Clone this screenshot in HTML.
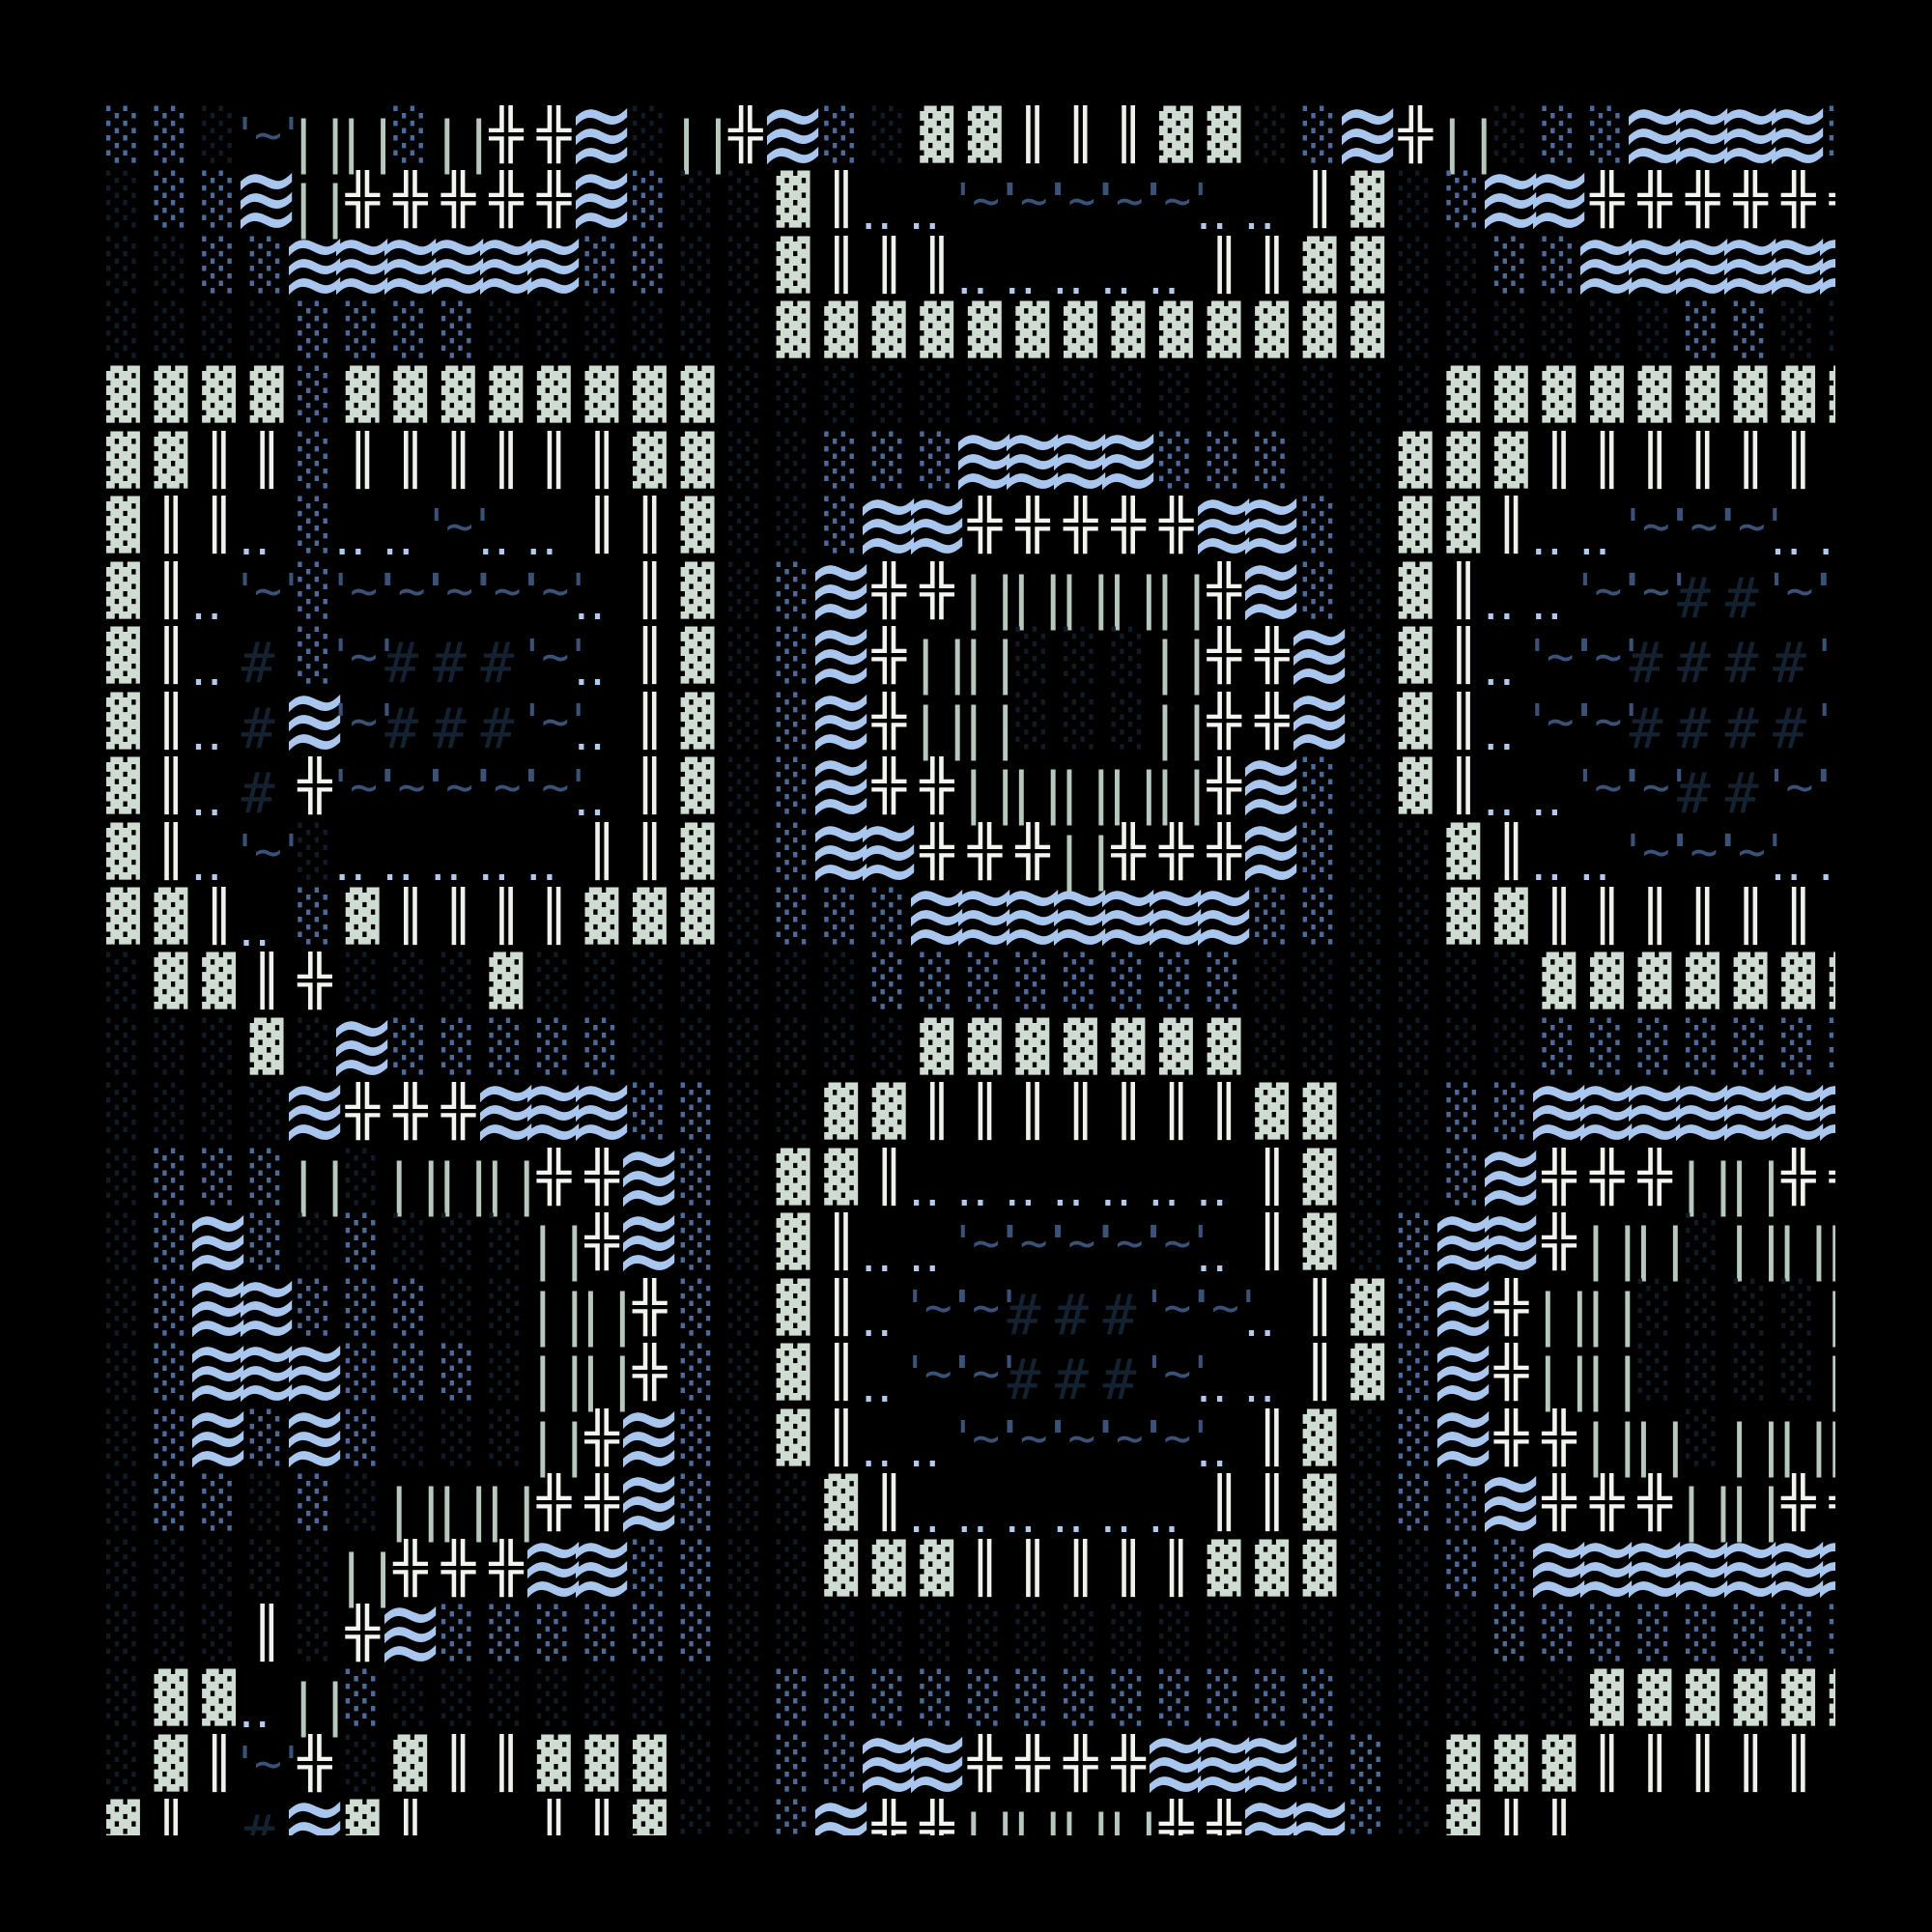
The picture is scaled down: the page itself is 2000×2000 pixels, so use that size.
<!DOCTYPE html>
<html><head><meta charset="utf-8"><style>
body{margin:0;background:#000;width:2000px;height:2000px;overflow:hidden;position:relative}
#c{position:absolute;left:110px;top:102px;width:1790px;height:1798px;overflow:hidden;background:#000}
.r{position:absolute;left:0;height:67.45px;white-space:nowrap;line-height:0;font-size:0}
i{font-style:normal;display:inline-block;vertical-align:top;width:49.56px;height:67.45px;position:relative;font-family:"DejaVu Sans Mono",monospace;font-size:58px;line-height:67.5px;overflow:visible}
.d,.m,.f,.w,.x{transform:scaleY(.874);transform-origin:0 0}
.d{color:#cfdcd2}
.m{color:#4d6b9a}
.f{color:#111a25}
.w{color:#eef2ea}
.x{color:#f2f5ee}
.p{color:#b7c9bd;letter-spacing:-2px;left:-11.5px;top:4px}
.h{color:#142131;left:-9px;top:4px}
.t{color:#3a5277;font-size:48px;line-height:55.9px;letter-spacing:-5px;left:-19.5px;top:3.5px}
.o{color:#b2caee;font-size:50px;line-height:58.2px;left:-12px;top:13.6px}
.z{color:#a8c6ee;font-family:"DejaVu Sans",sans-serif;font-size:72px;line-height:67.5px;left:-18.7px;top:-20px;transform:scale(1.18,1.49);transform-origin:0 0}
</style></head><body><div id="c">
<div class="r" style="top:7.6px"><i class=m>░</i><i class=m>░</i><i class=f>░</i><i class=t>'~'</i><i class=p>||</i><i class=p>||</i><i class=m>░</i><i class=p>||</i><i class=x>╬</i><i class=x>╬</i><i class=z>≋</i><i class=f>░</i><i class=p>||</i><i class=x>╬</i><i class=z>≋</i><i class=m>░</i><i class=f>░</i><i class=d>▓</i><i class=d>▓</i><i class=w>║</i><i class=w>║</i><i class=w>║</i><i class=d>▓</i><i class=d>▓</i><i class=f>░</i><i class=m>░</i><i class=z>≋</i><i class=x>╬</i><i class=p>||</i><i class=f>░</i><i class=m>░</i><i class=m>░</i><i class=z>≋</i><i class=z>≋</i><i class=z>≋</i><i class=z>≋</i><i class=m>░</i></div>
<div class="r" style="top:75.05px"><i class=f>░</i><i class=m>░</i><i class=m>░</i><i class=z>≋</i><i class=p>||</i><i class=x>╬</i><i class=x>╬</i><i class=x>╬</i><i class=x>╬</i><i class=x>╬</i><i class=z>≋</i><i class=m>░</i><i class=f>░</i><i class=f>░</i><i class=d>▓</i><i class=w>║</i><i class=o>‥</i><i class=o>‥</i><i class=t>'~'</i><i class=t>'~'</i><i class=t>'~'</i><i class=t>'~'</i><i class=t>'~'</i><i class=o>‥</i><i class=o>‥</i><i class=w>║</i><i class=d>▓</i><i class=f>░</i><i class=m>░</i><i class=z>≋</i><i class=z>≋</i><i class=x>╬</i><i class=x>╬</i><i class=x>╬</i><i class=x>╬</i><i class=x>╬</i><i class=x>╬</i></div>
<div class="r" style="top:142.5px"><i class=f>░</i><i class=f>░</i><i class=m>░</i><i class=m>░</i><i class=z>≋</i><i class=z>≋</i><i class=z>≋</i><i class=z>≋</i><i class=z>≋</i><i class=z>≋</i><i class=m>░</i><i class=m>░</i><i class=f>░</i><i class=f>░</i><i class=d>▓</i><i class=w>║</i><i class=w>║</i><i class=w>║</i><i class=o>‥</i><i class=o>‥</i><i class=o>‥</i><i class=o>‥</i><i class=o>‥</i><i class=w>║</i><i class=w>║</i><i class=d>▓</i><i class=d>▓</i><i class=f>░</i><i class=f>░</i><i class=m>░</i><i class=m>░</i><i class=z>≋</i><i class=z>≋</i><i class=z>≋</i><i class=z>≋</i><i class=z>≋</i><i class=z>≋</i></div>
<div class="r" style="top:209.95px"><i class=f>░</i><i class=f>░</i><i class=f>░</i><i class=f>░</i><i class=m>░</i><i class=m>░</i><i class=m>░</i><i class=m>░</i><i class=f>░</i><i class=f>░</i><i class=f>░</i><i class=f>░</i><i class=f>░</i><i class=f>░</i><i class=d>▓</i><i class=d>▓</i><i class=d>▓</i><i class=d>▓</i><i class=d>▓</i><i class=d>▓</i><i class=d>▓</i><i class=d>▓</i><i class=d>▓</i><i class=d>▓</i><i class=d>▓</i><i class=d>▓</i><i class=d>▓</i><i class=f>░</i><i class=f>░</i><i class=f>░</i><i class=f>░</i><i class=f>░</i><i class=f>░</i><i class=m>░</i><i class=m>░</i><i class=f>░</i><i class=f>░</i></div>
<div class="r" style="top:277.4px"><i class=d>▓</i><i class=d>▓</i><i class=d>▓</i><i class=d>▓</i><i class=m>░</i><i class=d>▓</i><i class=d>▓</i><i class=d>▓</i><i class=d>▓</i><i class=d>▓</i><i class=d>▓</i><i class=d>▓</i><i class=d>▓</i><i class=f>░</i><i class=f>░</i><i class=f>░</i><i class=f>░</i><i class=f>░</i><i class=f>░</i><i class=f>░</i><i class=f>░</i><i class=f>░</i><i class=f>░</i><i class=f>░</i><i class=f>░</i><i class=f>░</i><i class=f>░</i><i class=f>░</i><i class=d>▓</i><i class=d>▓</i><i class=d>▓</i><i class=d>▓</i><i class=d>▓</i><i class=d>▓</i><i class=d>▓</i><i class=d>▓</i><i class=d>▓</i></div>
<div class="r" style="top:344.85px"><i class=d>▓</i><i class=d>▓</i><i class=w>║</i><i class=w>║</i><i class=m>░</i><i class=w>║</i><i class=w>║</i><i class=w>║</i><i class=w>║</i><i class=w>║</i><i class=w>║</i><i class=d>▓</i><i class=d>▓</i><i class=f>░</i><i class=f>░</i><i class=m>░</i><i class=m>░</i><i class=m>░</i><i class=z>≋</i><i class=z>≋</i><i class=z>≋</i><i class=z>≋</i><i class=m>░</i><i class=m>░</i><i class=m>░</i><i class=f>░</i><i class=f>░</i><i class=d>▓</i><i class=d>▓</i><i class=d>▓</i><i class=w>║</i><i class=w>║</i><i class=w>║</i><i class=w>║</i><i class=w>║</i><i class=w>║</i><i></i></div>
<div class="r" style="top:412.3px"><i class=d>▓</i><i class=w>║</i><i class=w>║</i><i class=o>‥</i><i class=m>░</i><i class=o>‥</i><i class=o>‥</i><i class=t>'~'</i><i class=o>‥</i><i class=o>‥</i><i class=w>║</i><i class=w>║</i><i class=d>▓</i><i class=f>░</i><i class=f>░</i><i class=m>░</i><i class=z>≋</i><i class=z>≋</i><i class=x>╬</i><i class=x>╬</i><i class=x>╬</i><i class=x>╬</i><i class=x>╬</i><i class=z>≋</i><i class=z>≋</i><i class=m>░</i><i class=f>░</i><i class=d>▓</i><i class=d>▓</i><i class=w>║</i><i class=o>‥</i><i class=o>‥</i><i class=t>'~'</i><i class=t>'~'</i><i class=t>'~'</i><i class=o>‥</i><i class=o>‥</i></div>
<div class="r" style="top:479.75px"><i class=d>▓</i><i class=w>║</i><i class=o>‥</i><i class=t>'~'</i><i class=m>░</i><i class=t>'~'</i><i class=t>'~'</i><i class=t>'~'</i><i class=t>'~'</i><i class=t>'~'</i><i class=o>‥</i><i class=w>║</i><i class=d>▓</i><i class=f>░</i><i class=m>░</i><i class=z>≋</i><i class=x>╬</i><i class=x>╬</i><i class=p>||</i><i class=p>||</i><i class=p>||</i><i class=p>||</i><i class=p>||</i><i class=x>╬</i><i class=z>≋</i><i class=m>░</i><i class=f>░</i><i class=d>▓</i><i class=w>║</i><i class=o>‥</i><i class=o>‥</i><i class=t>'~'</i><i class=t>'~'</i><i class=h>#</i><i class=h>#</i><i class=t>'~'</i><i class=t>'~'</i></div>
<div class="r" style="top:547.2px"><i class=d>▓</i><i class=w>║</i><i class=o>‥</i><i class=h>#</i><i class=m>░</i><i class=t>'~'</i><i class=h>#</i><i class=h>#</i><i class=h>#</i><i class=t>'~'</i><i class=o>‥</i><i class=w>║</i><i class=d>▓</i><i class=f>░</i><i class=m>░</i><i class=z>≋</i><i class=x>╬</i><i class=p>||</i><i class=p>||</i><i class=f>░</i><i class=f>░</i><i class=f>░</i><i class=p>||</i><i class=x>╬</i><i class=x>╬</i><i class=z>≋</i><i class=f>░</i><i class=d>▓</i><i class=w>║</i><i class=o>‥</i><i class=t>'~'</i><i class=t>'~'</i><i class=h>#</i><i class=h>#</i><i class=h>#</i><i class=h>#</i><i class=t>'~'</i></div>
<div class="r" style="top:614.65px"><i class=d>▓</i><i class=w>║</i><i class=o>‥</i><i class=h>#</i><i class=z>≋</i><i class=t>'~'</i><i class=h>#</i><i class=h>#</i><i class=h>#</i><i class=t>'~'</i><i class=o>‥</i><i class=w>║</i><i class=d>▓</i><i class=f>░</i><i class=m>░</i><i class=z>≋</i><i class=x>╬</i><i class=p>||</i><i class=p>||</i><i class=f>░</i><i class=f>░</i><i class=f>░</i><i class=p>||</i><i class=x>╬</i><i class=x>╬</i><i class=z>≋</i><i class=f>░</i><i class=d>▓</i><i class=w>║</i><i class=o>‥</i><i class=t>'~'</i><i class=t>'~'</i><i class=h>#</i><i class=h>#</i><i class=h>#</i><i class=h>#</i><i class=t>'~'</i></div>
<div class="r" style="top:682.1px"><i class=d>▓</i><i class=w>║</i><i class=o>‥</i><i class=h>#</i><i class=x>╬</i><i class=t>'~'</i><i class=t>'~'</i><i class=t>'~'</i><i class=t>'~'</i><i class=t>'~'</i><i class=o>‥</i><i class=w>║</i><i class=d>▓</i><i class=f>░</i><i class=m>░</i><i class=z>≋</i><i class=x>╬</i><i class=x>╬</i><i class=p>||</i><i class=p>||</i><i class=p>||</i><i class=p>||</i><i class=p>||</i><i class=x>╬</i><i class=z>≋</i><i class=m>░</i><i class=f>░</i><i class=d>▓</i><i class=w>║</i><i class=o>‥</i><i class=o>‥</i><i class=t>'~'</i><i class=t>'~'</i><i class=h>#</i><i class=h>#</i><i class=t>'~'</i><i class=t>'~'</i></div>
<div class="r" style="top:749.55px"><i class=d>▓</i><i class=w>║</i><i class=o>‥</i><i class=t>'~'</i><i class=f>░</i><i class=o>‥</i><i class=o>‥</i><i class=o>‥</i><i class=o>‥</i><i class=o>‥</i><i class=w>║</i><i class=w>║</i><i class=d>▓</i><i class=f>░</i><i class=m>░</i><i class=z>≋</i><i class=z>≋</i><i class=x>╬</i><i class=x>╬</i><i class=x>╬</i><i class=p>||</i><i class=x>╬</i><i class=x>╬</i><i class=x>╬</i><i class=z>≋</i><i class=m>░</i><i class=f>░</i><i class=f>░</i><i class=d>▓</i><i class=w>║</i><i class=o>‥</i><i class=o>‥</i><i class=t>'~'</i><i class=t>'~'</i><i class=t>'~'</i><i class=o>‥</i><i class=o>‥</i></div>
<div class="r" style="top:817px"><i class=d>▓</i><i class=d>▓</i><i class=w>║</i><i class=o>‥</i><i class=m>░</i><i class=d>▓</i><i class=w>║</i><i class=w>║</i><i class=w>║</i><i class=w>║</i><i class=d>▓</i><i class=d>▓</i><i class=d>▓</i><i class=f>░</i><i class=m>░</i><i class=m>░</i><i class=m>░</i><i class=z>≋</i><i class=z>≋</i><i class=z>≋</i><i class=z>≋</i><i class=z>≋</i><i class=z>≋</i><i class=z>≋</i><i class=m>░</i><i class=m>░</i><i class=f>░</i><i class=f>░</i><i class=d>▓</i><i class=d>▓</i><i class=w>║</i><i class=w>║</i><i class=w>║</i><i class=w>║</i><i class=w>║</i><i class=w>║</i><i></i></div>
<div class="r" style="top:884.45px"><i class=f>░</i><i class=d>▓</i><i class=d>▓</i><i class=w>║</i><i class=x>╬</i><i class=f>░</i><i class=f>░</i><i class=f>░</i><i class=d>▓</i><i class=f>░</i><i class=f>░</i><i class=f>░</i><i class=f>░</i><i class=f>░</i><i class=f>░</i><i class=f>░</i><i class=m>░</i><i class=m>░</i><i class=m>░</i><i class=m>░</i><i class=m>░</i><i class=m>░</i><i class=m>░</i><i class=m>░</i><i class=f>░</i><i class=f>░</i><i class=f>░</i><i class=f>░</i><i class=f>░</i><i class=f>░</i><i class=d>▓</i><i class=d>▓</i><i class=d>▓</i><i class=d>▓</i><i class=d>▓</i><i class=d>▓</i><i class=d>▓</i></div>
<div class="r" style="top:951.9px"><i class=f>░</i><i class=f>░</i><i class=f>░</i><i class=d>▓</i><i class=f>░</i><i class=z>≋</i><i class=m>░</i><i class=m>░</i><i class=m>░</i><i class=m>░</i><i class=m>░</i><i class=f>░</i><i class=f>░</i><i class=f>░</i><i class=f>░</i><i class=f>░</i><i class=f>░</i><i class=d>▓</i><i class=d>▓</i><i class=d>▓</i><i class=d>▓</i><i class=d>▓</i><i class=d>▓</i><i class=d>▓</i><i class=f>░</i><i class=f>░</i><i class=f>░</i><i class=f>░</i><i class=f>░</i><i class=f>░</i><i class=m>░</i><i class=m>░</i><i class=m>░</i><i class=m>░</i><i class=m>░</i><i class=m>░</i><i class=m>░</i></div>
<div class="r" style="top:1019.35px"><i class=f>░</i><i class=f>░</i><i class=f>░</i><i class=f>░</i><i class=z>≋</i><i class=x>╬</i><i class=x>╬</i><i class=x>╬</i><i class=z>≋</i><i class=z>≋</i><i class=z>≋</i><i class=m>░</i><i class=m>░</i><i class=f>░</i><i class=f>░</i><i class=d>▓</i><i class=d>▓</i><i class=w>║</i><i class=w>║</i><i class=w>║</i><i class=w>║</i><i class=w>║</i><i class=w>║</i><i class=w>║</i><i class=d>▓</i><i class=d>▓</i><i class=f>░</i><i class=f>░</i><i class=m>░</i><i class=m>░</i><i class=z>≋</i><i class=z>≋</i><i class=z>≋</i><i class=z>≋</i><i class=z>≋</i><i class=z>≋</i><i class=z>≋</i></div>
<div class="r" style="top:1086.8px"><i class=f>░</i><i class=m>░</i><i class=m>░</i><i class=m>░</i><i class=p>||</i><i class=f>░</i><i class=p>||</i><i class=p>||</i><i class=p>||</i><i class=x>╬</i><i class=x>╬</i><i class=z>≋</i><i class=m>░</i><i class=f>░</i><i class=d>▓</i><i class=d>▓</i><i class=w>║</i><i class=o>‥</i><i class=o>‥</i><i class=o>‥</i><i class=o>‥</i><i class=o>‥</i><i class=o>‥</i><i class=o>‥</i><i class=w>║</i><i class=d>▓</i><i class=f>░</i><i class=f>░</i><i class=m>░</i><i class=z>≋</i><i class=x>╬</i><i class=x>╬</i><i class=x>╬</i><i class=p>||</i><i class=p>||</i><i class=x>╬</i><i class=x>╬</i></div>
<div class="r" style="top:1154.25px"><i class=f>░</i><i class=m>░</i><i class=z>≋</i><i class=m>░</i><i class=f>░</i><i class=m>░</i><i class=f>░</i><i class=f>░</i><i class=f>░</i><i class=p>||</i><i class=x>╬</i><i class=z>≋</i><i class=m>░</i><i class=f>░</i><i class=d>▓</i><i class=w>║</i><i class=o>‥</i><i class=o>‥</i><i class=t>'~'</i><i class=t>'~'</i><i class=t>'~'</i><i class=t>'~'</i><i class=t>'~'</i><i class=o>‥</i><i class=w>║</i><i class=d>▓</i><i class=f>░</i><i class=m>░</i><i class=z>≋</i><i class=z>≋</i><i class=x>╬</i><i class=p>||</i><i class=p>||</i><i class=f>░</i><i class=p>||</i><i class=p>||</i><i class=p>||</i></div>
<div class="r" style="top:1221.7px"><i class=f>░</i><i class=m>░</i><i class=z>≋</i><i class=z>≋</i><i class=m>░</i><i class=m>░</i><i class=m>░</i><i class=f>░</i><i class=f>░</i><i class=p>||</i><i class=p>||</i><i class=x>╬</i><i class=m>░</i><i class=f>░</i><i class=d>▓</i><i class=w>║</i><i class=o>‥</i><i class=t>'~'</i><i class=t>'~'</i><i class=h>#</i><i class=h>#</i><i class=h>#</i><i class=t>'~'</i><i class=t>'~'</i><i class=o>‥</i><i class=w>║</i><i class=d>▓</i><i class=m>░</i><i class=z>≋</i><i class=x>╬</i><i class=p>||</i><i class=p>||</i><i class=f>░</i><i class=f>░</i><i class=f>░</i><i class=f>░</i><i class=p>||</i></div>
<div class="r" style="top:1289.15px"><i class=f>░</i><i class=m>░</i><i class=z>≋</i><i class=z>≋</i><i class=z>≋</i><i class=m>░</i><i class=m>░</i><i class=m>░</i><i class=f>░</i><i class=p>||</i><i class=p>||</i><i class=x>╬</i><i class=m>░</i><i class=f>░</i><i class=d>▓</i><i class=w>║</i><i class=o>‥</i><i class=t>'~'</i><i class=t>'~'</i><i class=h>#</i><i class=h>#</i><i class=h>#</i><i class=t>'~'</i><i class=o>‥</i><i class=o>‥</i><i class=w>║</i><i class=d>▓</i><i class=m>░</i><i class=z>≋</i><i class=x>╬</i><i class=p>||</i><i class=p>||</i><i class=f>░</i><i class=f>░</i><i class=f>░</i><i class=f>░</i><i class=p>||</i></div>
<div class="r" style="top:1356.6px"><i class=f>░</i><i class=m>░</i><i class=z>≋</i><i class=m>░</i><i class=z>≋</i><i class=m>░</i><i class=f>░</i><i class=f>░</i><i class=f>░</i><i class=p>||</i><i class=x>╬</i><i class=z>≋</i><i class=m>░</i><i class=f>░</i><i class=d>▓</i><i class=w>║</i><i class=o>‥</i><i class=o>‥</i><i class=t>'~'</i><i class=t>'~'</i><i class=t>'~'</i><i class=t>'~'</i><i class=t>'~'</i><i class=o>‥</i><i class=w>║</i><i class=d>▓</i><i class=f>░</i><i class=m>░</i><i class=z>≋</i><i class=x>╬</i><i class=x>╬</i><i class=p>||</i><i class=p>||</i><i class=f>░</i><i class=p>||</i><i class=p>||</i><i class=p>||</i></div>
<div class="r" style="top:1424.05px"><i class=f>░</i><i class=m>░</i><i class=m>░</i><i class=f>░</i><i class=m>░</i><i class=f>░</i><i class=p>||</i><i class=p>||</i><i class=p>||</i><i class=x>╬</i><i class=x>╬</i><i class=z>≋</i><i class=m>░</i><i class=f>░</i><i class=f>░</i><i class=d>▓</i><i class=w>║</i><i class=o>‥</i><i class=o>‥</i><i class=o>‥</i><i class=o>‥</i><i class=o>‥</i><i class=o>‥</i><i class=w>║</i><i class=w>║</i><i class=d>▓</i><i class=f>░</i><i class=m>░</i><i class=m>░</i><i class=z>≋</i><i class=x>╬</i><i class=x>╬</i><i class=x>╬</i><i class=p>||</i><i class=p>||</i><i class=x>╬</i><i class=x>╬</i></div>
<div class="r" style="top:1491.5px"><i class=f>░</i><i class=f>░</i><i class=f>░</i><i class=f>░</i><i class=f>░</i><i class=p>||</i><i class=x>╬</i><i class=x>╬</i><i class=x>╬</i><i class=z>≋</i><i class=z>≋</i><i class=m>░</i><i class=m>░</i><i class=f>░</i><i class=f>░</i><i class=d>▓</i><i class=d>▓</i><i class=d>▓</i><i class=w>║</i><i class=w>║</i><i class=w>║</i><i class=w>║</i><i class=w>║</i><i class=d>▓</i><i class=d>▓</i><i class=d>▓</i><i class=f>░</i><i class=f>░</i><i class=m>░</i><i class=m>░</i><i class=z>≋</i><i class=z>≋</i><i class=z>≋</i><i class=z>≋</i><i class=z>≋</i><i class=z>≋</i><i class=z>≋</i></div>
<div class="r" style="top:1558.95px"><i class=f>░</i><i class=f>░</i><i class=f>░</i><i class=w>║</i><i class=f>░</i><i class=x>╬</i><i class=z>≋</i><i class=m>░</i><i class=m>░</i><i class=m>░</i><i class=m>░</i><i class=m>░</i><i class=m>░</i><i class=f>░</i><i class=f>░</i><i class=f>░</i><i class=f>░</i><i class=f>░</i><i class=f>░</i><i class=f>░</i><i class=f>░</i><i class=f>░</i><i class=f>░</i><i class=f>░</i><i class=f>░</i><i class=f>░</i><i class=f>░</i><i class=f>░</i><i class=f>░</i><i class=m>░</i><i class=m>░</i><i class=m>░</i><i class=m>░</i><i class=m>░</i><i class=m>░</i><i class=m>░</i><i class=m>░</i></div>
<div class="r" style="top:1626.4px"><i class=f>░</i><i class=d>▓</i><i class=d>▓</i><i class=o>‥</i><i class=p>||</i><i class=m>░</i><i class=f>░</i><i class=f>░</i><i class=f>░</i><i class=f>░</i><i class=f>░</i><i class=f>░</i><i class=f>░</i><i class=f>░</i><i class=m>░</i><i class=m>░</i><i class=m>░</i><i class=m>░</i><i class=m>░</i><i class=m>░</i><i class=m>░</i><i class=m>░</i><i class=m>░</i><i class=m>░</i><i class=m>░</i><i class=m>░</i><i class=f>░</i><i class=f>░</i><i class=f>░</i><i class=f>░</i><i class=f>░</i><i class=d>▓</i><i class=d>▓</i><i class=d>▓</i><i class=d>▓</i><i class=d>▓</i><i class=d>▓</i></div>
<div class="r" style="top:1693.85px"><i class=f>░</i><i class=d>▓</i><i class=w>║</i><i class=t>'~'</i><i class=x>╬</i><i class=f>░</i><i class=d>▓</i><i class=w>║</i><i class=w>║</i><i class=d>▓</i><i class=d>▓</i><i class=d>▓</i><i class=f>░</i><i class=f>░</i><i class=m>░</i><i class=m>░</i><i class=z>≋</i><i class=z>≋</i><i class=x>╬</i><i class=x>╬</i><i class=x>╬</i><i class=x>╬</i><i class=z>≋</i><i class=z>≋</i><i class=z>≋</i><i class=m>░</i><i class=m>░</i><i class=f>░</i><i class=d>▓</i><i class=d>▓</i><i class=d>▓</i><i class=w>║</i><i class=w>║</i><i class=w>║</i><i class=w>║</i><i class=w>║</i><i></i></div>
<div class="r" style="top:1761.3px"><i class=d>▓</i><i class=w>║</i><i></i><i class=h>#</i><i class=z>≋</i><i class=d>▓</i><i class=w>║</i><i></i><i></i><i class=w>║</i><i class=w>║</i><i class=d>▓</i><i class=f>░</i><i class=f>░</i><i class=m>░</i><i class=z>≋</i><i class=x>╬</i><i class=x>╬</i><i class=p>||</i><i class=p>||</i><i class=p>||</i><i class=p>||</i><i class=x>╬</i><i class=x>╬</i><i class=z>≋</i><i class=z>≋</i><i class=m>░</i><i class=f>░</i><i class=d>▓</i><i class=w>║</i><i class=w>║</i><i></i><i></i><i></i><i></i><i></i><i></i></div>
</div></body></html>
